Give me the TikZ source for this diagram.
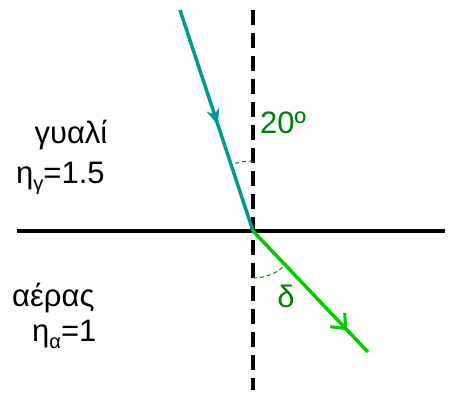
\documentclass[tikz,border=0pt]{standalone}
\usepackage{fontspec}
\setmainfont{Liberation Sans}
\usetikzlibrary{arrows.meta,decorations.markings}
\definecolor{teal1}{RGB}{0,153,153}
\definecolor{green1}{RGB}{0,204,0}
\definecolor{green2}{RGB}{0,128,0}
\newcommand{\lowsub}[1]{\raisebox{-7pt}{\fontsize{20}{22}\selectfont #1}}
\tikzset{
  lbl/.style={font=\fontsize{31}{34}\selectfont, inner sep=0pt},
  glbl/.style={font=\fontsize{31}{34}\selectfont, inner sep=0pt, text=green2},
  ray/.style={line width=3.5pt},
  arcd/.style={green2, line width=1pt, dash pattern=on 4pt off 3pt},
}
\begin{document}
\begin{tikzpicture}[x=1pt,y=-1pt]
\useasboundingbox (0,0) rectangle (458,399);
\coordinate (O) at (253,231);
\coordinate (L) at (17,231);
\coordinate (R) at (445,231);
\coordinate (NT) at (253,10);
\coordinate (NB) at (253,390);
\coordinate (IS) at (180,10);
\coordinate (RE) at (368,352);
\coordinate (A1) at (253,161);
\coordinate (A2) at (253,278);
% normal
\draw[line width=4pt, dash pattern=on 15pt off 8pt] (NT) -- (NB);
% interface
\draw[line width=4pt] (L) -- (R);
% arcs
\draw[arcd] (A1) arc[start angle=-90, end angle=-108.4, radius=70];
\draw[arcd] (A2) arc[start angle=90, end angle=46, radius=47];
% incident ray
\draw[ray, teal1, decoration={markings, mark=at position 0.52 with {\arrow{Stealth[length=16pt,width=13pt,inset=5pt]}}}, postaction={decorate}] (IS) -- (O);
% refracted ray
\draw[ray, green1, decoration={markings, mark=at position 0.82 with {\arrow{Straight Barb[length=12pt,width=20pt,line width=3pt]}}}, postaction={decorate}] (O) -- (RE);
% labels
\node[lbl, anchor=base] (g) at (71,143) {γυαλί};
\node[lbl, anchor=base west] (ng) at (16,183) {η\lowsub{γ}=1.5};
\node[lbl, anchor=base west] (a) at (12,306) {αέρας};
\node[lbl, anchor=base west] (na) at (32,341) {η\lowsub{α}=1};
\node[glbl, anchor=base west] (ang) at (260,133) {20º};
\node[glbl] (d) at (286,296) {δ};
\end{tikzpicture}
\end{document}
